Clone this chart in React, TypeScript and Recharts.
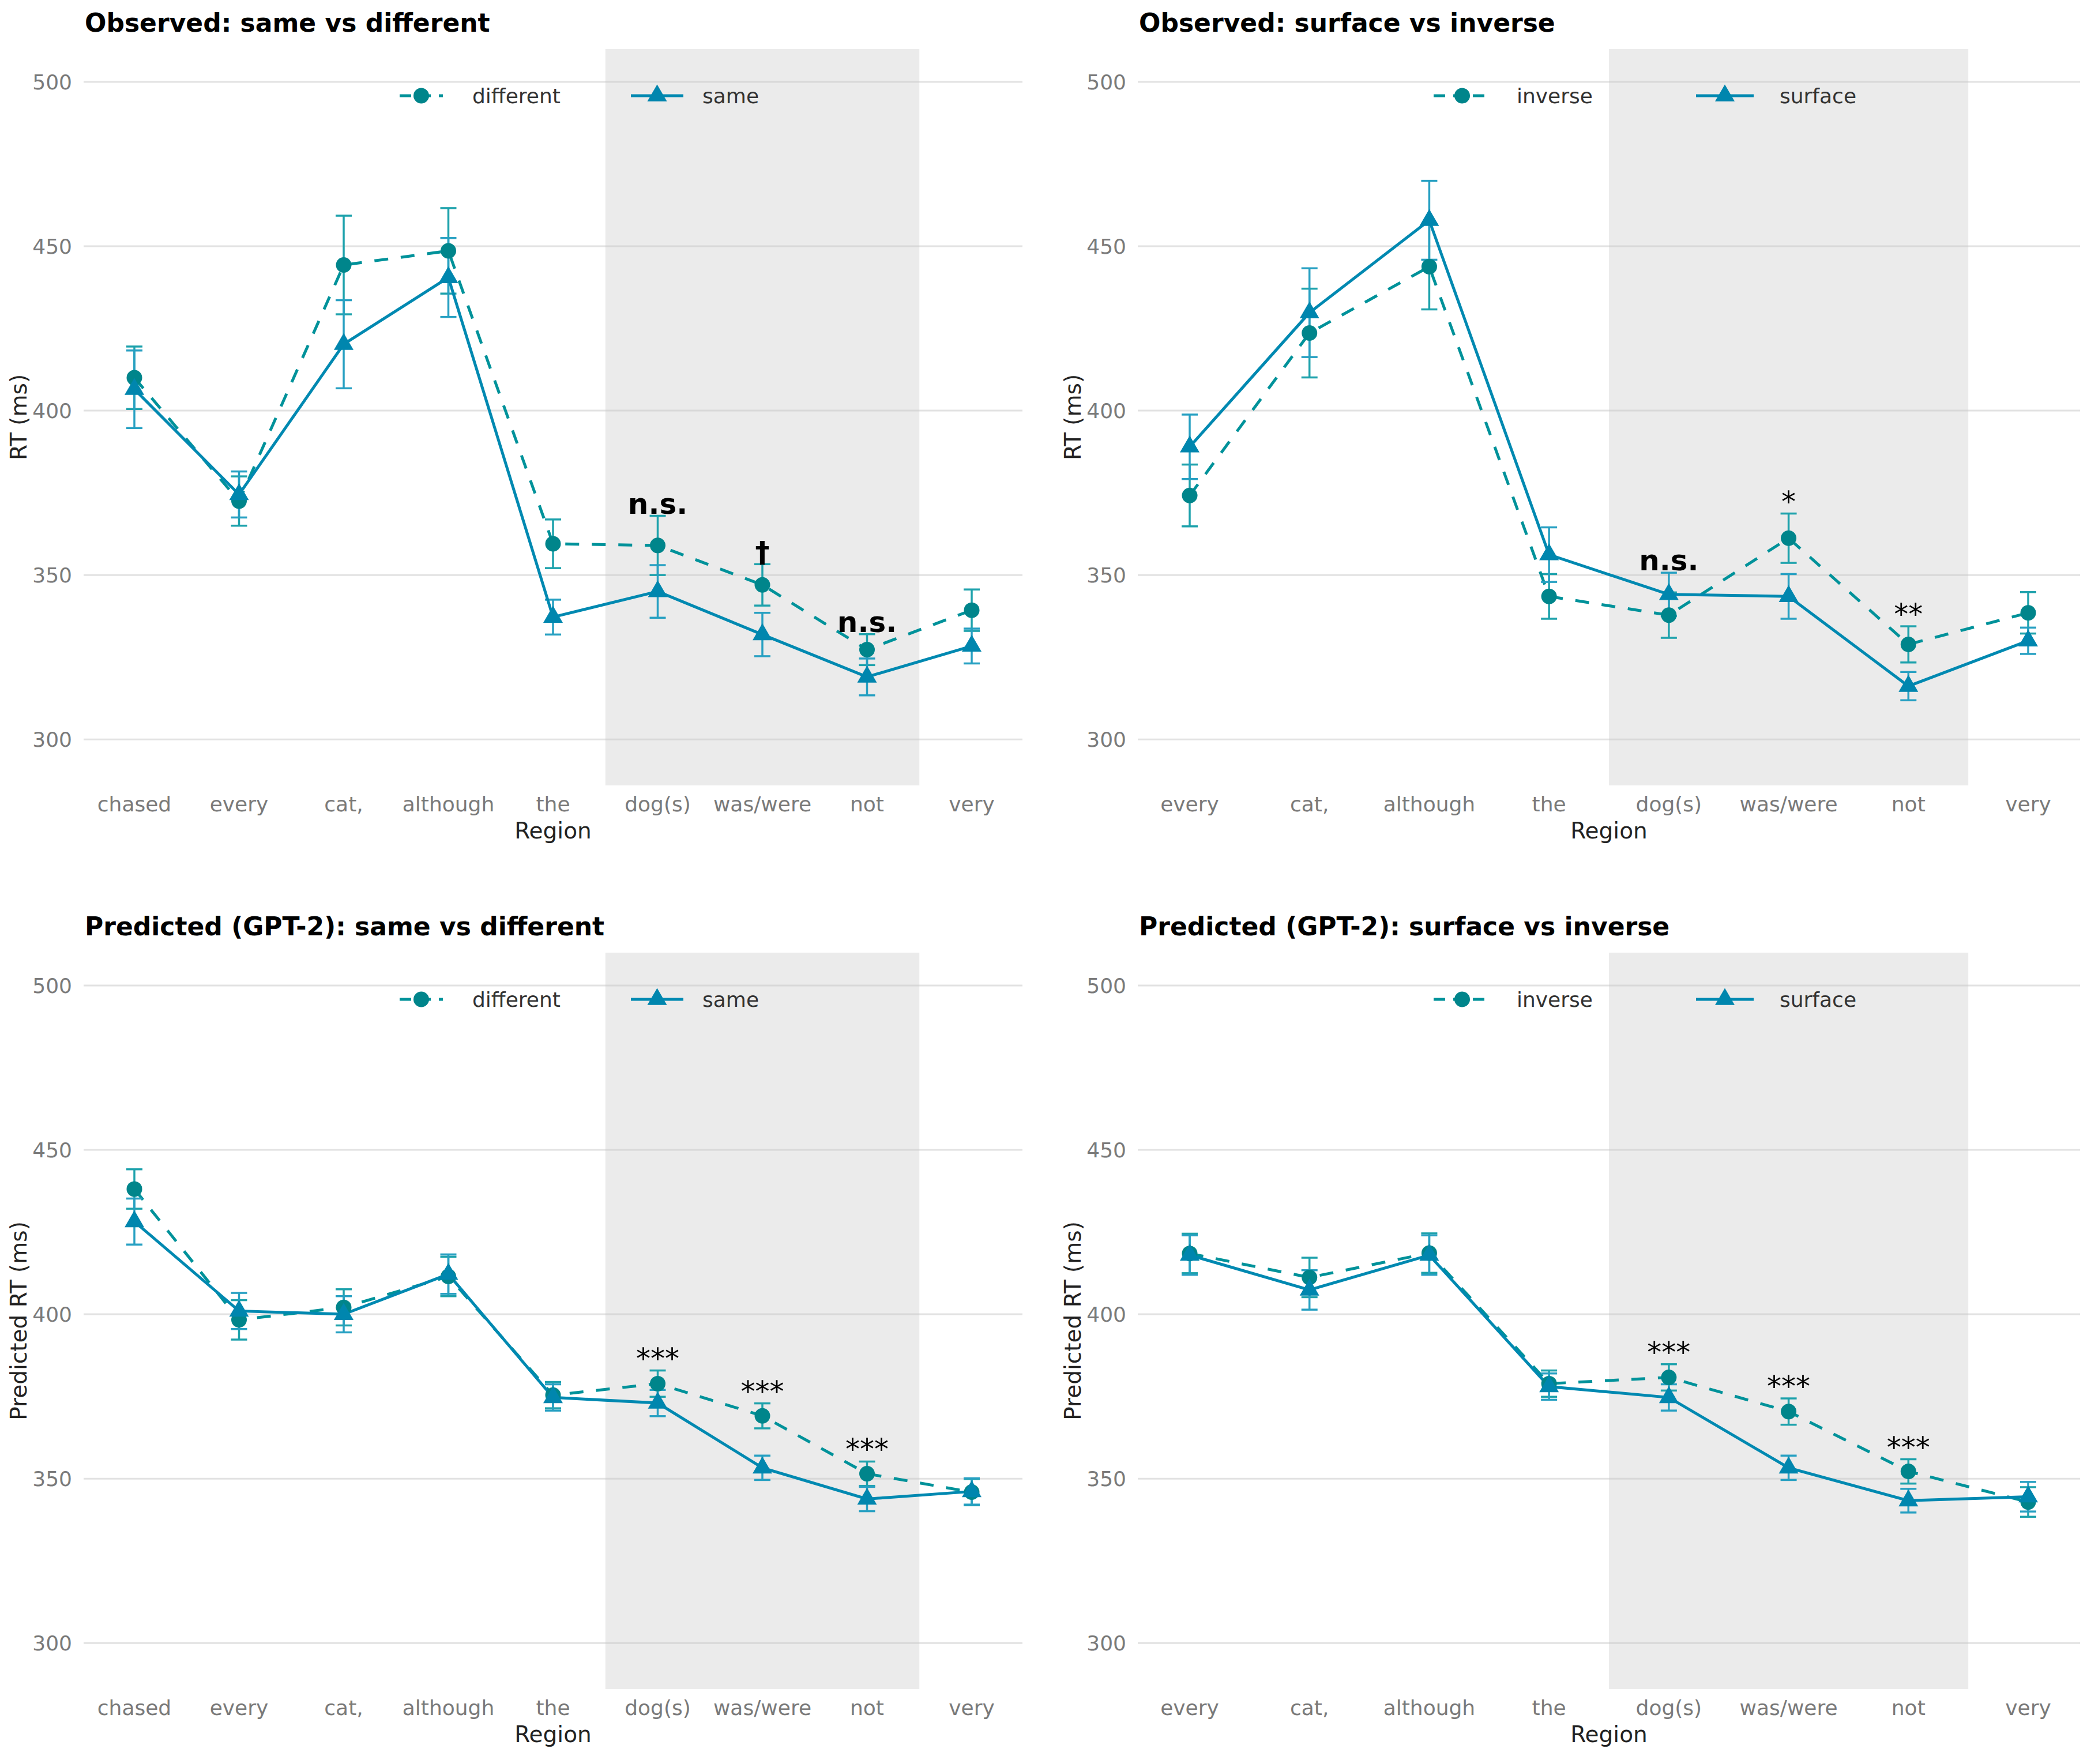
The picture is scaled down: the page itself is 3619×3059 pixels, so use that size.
import React from 'react';
import {
  ComposedChart,
  Line,
  Scatter,
  XAxis,
  YAxis,
  CartesianGrid,
  ReferenceArea,
  ErrorBar,
} from 'recharts';

// ---- data ----
const regionsSameDiff = ['chased', 'every', 'cat,', 'although', 'the', 'dog(s)', 'was/were', 'not', 'very'];
const regionsSurfInv = ['every', 'cat,', 'although', 'the', 'dog(s)', 'was/were', 'not', 'very'];
const criticalRegions = ['dog(s)', 'was/were', 'not'];
const yTicks = [300, 350, 400, 450, 500];

// Observed: same vs different
const obsDifferent = [410, 372.5, 444.3, 448.6, 359.5, 359, 347, 327.3, 339.3];
const obsDifferentSE = [9.5, 7.5, 15, 13, 7.4, 9, 6.3, 4.7, 6.3];
const obsSame = [406.5, 374.5, 420.2, 440.5, 337.2, 345, 331.9, 319, 328.4];
const obsSameSE = [11.8, 7, 13.4, 12, 5.3, 8, 6.6, 5.6, 5.3];
const obsSameDiffSig = [
  { region: 'dog(s)', label: 'n.s.' },
  { region: 'was/were', label: '†' },
  { region: 'not', label: 'n.s.' },
];

// Observed: surface vs inverse
const obsInverse = [374.2, 423.6, 443.8, 343.5, 337.8, 361.2, 328.9, 338.5];
const obsInverseSE = [9.4, 13.5, 13, 6.8, 6.9, 7.5, 5.5, 6.3];
const obsSurface = [389, 429.8, 457.9, 356.2, 344.1, 343.5, 316.2, 330];
const obsSurfaceSE = [9.8, 13.5, 12, 8.3, 6.6, 6.8, 4.3, 4];
const obsSurfInvSig = [
  { region: 'dog(s)', label: 'n.s.' },
  { region: 'was/were', label: '*' },
  { region: 'not', label: '**' },
];

// Predicted (GPT-2): same vs different
const predDifferent = [438.1, 398.3, 402.1, 411.5, 375.4, 378.9, 369.1, 351.5, 345.9];
const predDifferentSE = [6, 6, 5.5, 6, 4, 4, 3.8, 3.7, 4];
const predSame = [428.2, 401, 400, 412.2, 374.7, 373, 353.3, 343.8, 346.1];
const predSameSE = [7, 5.5, 5.5, 6, 4, 4, 3.7, 3.7, 4];
const predSameDiffSig = [
  { region: 'dog(s)', label: '***' },
  { region: 'was/were', label: '***' },
  { region: 'not', label: '***' },
];

// Predicted (GPT-2): surface vs inverse
const predInverse = [418.5, 411.2, 418.6, 378.9, 380.8, 370.4, 352.2, 342.9];
const predInverseSE = [6, 6, 6, 4, 4, 4, 3.7, 4.5];
const predSurface = [418, 407.4, 418, 378, 374.7, 353.3, 343.3, 344.5];
const predSurfaceSE = [6, 6, 6, 4, 4, 3.7, 3.6, 4.5];
const predSurfInvSig = [
  { region: 'dog(s)', label: '***' },
  { region: 'was/were', label: '***' },
  { region: 'not', label: '***' },
];

// ---- styling ----
const FONT = '"DejaVu Sans", Verdana, sans-serif';
const A_LINE = '#00929A';
const A_POINT = '#00858B';
const A_ERR = '#1EA2AC';
const B_LINE = '#0089B1';
const B_POINT = '#0086AE';
const B_ERR = '#27A0C2';

const CHART_H = 1472;
const PLOT_TOP = 85;
const X_AXIS_H = 110;
const Y_AXIS_W = 145;
const PLOT_BOTTOM = CHART_H - X_AXIS_H;

const circleDot = (fill: string) => (p: any) => (
  <circle key={`c-${p.index}`} cx={p.cx} cy={p.cy} r={13.5} fill={fill} />
);

const triangleDot = (fill: string) => (p: any) => (
  <polygon
    key={`t-${p.index}`}
    points={`${p.cx},${p.cy - 19.5} ${p.cx - 17},${p.cy + 9.8} ${p.cx + 17},${p.cy + 9.8}`}
    fill={fill}
  />
);

interface PanelProps {
  left: number;
  top: number;
  width: number;
  marginRight: number;
  padX: number;
  title: string;
  yLabel: string;
  regions: string[];
  aName: string;
  aValues: number[];
  aSE: number[];
  bName: string;
  bValues: number[];
  bSE: number[];
  sig: { region: string; label: string }[];
  legendA: [number, number, number];
  legendB: [number, number, number];
}

function Panel(props: PanelProps) {
  const { left, top, width, marginRight, padX, title, yLabel, regions, aName, aValues, aSE, bName, bValues, bSE, sig, legendA, legendB } = props;

  const data = regions.map((r, i) => ({
    idx: i,
    region: r,
    a: aValues[i],
    aErr: aSE[i],
    b: bValues[i],
    bErr: bSE[i],
  }));

  // significance marks sit on top of the higher error bar
  const sigData = sig.map((s) => {
    const i = regions.indexOf(s.region);
    return {
      idx: i,
      sigY: Math.max(aValues[i] + aSE[i], bValues[i] + bSE[i]),
      label: s.label,
    };
  });

  const critLo = regions.indexOf(criticalRegions[0]) - 0.5;
  const critHi = regions.indexOf(criticalRegions[criticalRegions.length - 1]) + 0.5;
  const plotLeft = Y_AXIS_W;
  const plotRight = width - marginRight;
  const legendY = PLOT_TOP + 81;

  const XTick = (p: any) => (
    <text x={p.x} y={p.y + 32} textAnchor="middle" dominantBaseline="central" fontSize={36} fill="#7a7a7a" fontFamily={FONT}>
      {regions[p.payload.value]}
    </text>
  );
  const YTick = (p: any) => (
    <text x={p.x - 20} y={p.y} textAnchor="end" dominantBaseline="central" fontSize={36} fill="#7a7a7a" fontFamily={FONT}>
      {p.payload.value}
    </text>
  );
  const SigLabel = (p: any) => (
    <text
      x={p.cx}
      y={p.cy - 4}
      textAnchor="middle"
      fontSize={50}
      fontWeight={p.payload.label.includes('*') ? 400 : 700}
      fill="#000"
      fontFamily={FONT}
    >
      {p.payload.label}
    </text>
  );

  return (
    <div style={{ position: 'absolute', left, top, width, height: CHART_H }}>
      <ComposedChart width={width} height={CHART_H} data={data} margin={{ top: PLOT_TOP, right: marginRight, bottom: 0, left: 0 }}>
        <CartesianGrid vertical={false} horizontalValues={yTicks} stroke="#E2E2E2" strokeWidth={3} />
        <ReferenceArea x1={critLo} x2={critHi} fill="#C4C4C4" fillOpacity={0.34} stroke="none" ifOverflow="visible" />
        <XAxis
          dataKey="idx"
          type="number"
          domain={[0, regions.length - 1]}
          ticks={regions.map((_, i) => i)}
          padding={{ left: padX, right: padX }}
          axisLine={false}
          tickLine={false}
          tickSize={0}
          tickMargin={0}
          height={X_AXIS_H}
          tick={XTick}
          interval={0}
        />
        <YAxis
          type="number"
          domain={[286, 510]}
          ticks={yTicks}
          allowDataOverflow
          axisLine={false}
          tickLine={false}
          tickSize={0}
          tickMargin={0}
          width={Y_AXIS_W}
          tick={YTick}
        />
        <Line
          dataKey="a"
          name={aName}
          type="linear"
          stroke={A_LINE}
          strokeWidth={5}
          strokeDasharray="24 22"
          dot={circleDot(A_POINT)}
          activeDot={false}
          isAnimationActive={false}
        >
          <ErrorBar dataKey="aErr" direction="y" width={14} strokeWidth={3.5} stroke={A_ERR} />
        </Line>
        <Line
          dataKey="b"
          name={bName}
          type="linear"
          stroke={B_LINE}
          strokeWidth={5}
          dot={triangleDot(B_POINT)}
          activeDot={false}
          isAnimationActive={false}
        >
          <ErrorBar dataKey="bErr" direction="y" width={14} strokeWidth={3.5} stroke={B_ERR} />
        </Line>
        <Scatter data={sigData} dataKey="sigY" shape={SigLabel} isAnimationActive={false} />
      </ComposedChart>

      {/* title, axis titles and legend */}
      <svg width={width} height={CHART_H} style={{ position: 'absolute', left: 0, top: 0, pointerEvents: 'none' }} fontFamily={FONT}>
        <text x={plotLeft + 2} y={39} dominantBaseline="central" fontSize={44} fontWeight={700} fill="#000">
          {title}
        </text>
        <text
          x={32}
          y={(PLOT_TOP + PLOT_BOTTOM) / 2}
          transform={`rotate(-90 32 ${(PLOT_TOP + PLOT_BOTTOM) / 2})`}
          textAnchor="middle"
          dominantBaseline="central"
          fontSize={39}
          fill="#222"
        >
          {yLabel}
        </text>
        <text x={(plotLeft + plotRight) / 2} y={PLOT_BOTTOM + 78} textAnchor="middle" dominantBaseline="central" fontSize={39} fill="#222">
          Region
        </text>

        <line x1={legendA[0]} x2={legendA[1]} y1={legendY} y2={legendY} stroke={A_LINE} strokeWidth={5} strokeDasharray="20 14" />
        <circle cx={(legendA[0] + legendA[1]) / 2} cy={legendY} r={13.5} fill={A_POINT} />
        <text x={legendA[2]} y={legendY} dominantBaseline="central" fontSize={36} fill="#333">
          {aName}
        </text>

        <line x1={legendB[0]} x2={legendB[1]} y1={legendY} y2={legendY} stroke={B_LINE} strokeWidth={5} />
        {triangleDot(B_POINT)({ cx: (legendB[0] + legendB[1]) / 2, cy: legendY, index: 'leg' })}
        <text x={legendB[2]} y={legendY} dominantBaseline="central" fontSize={36} fill="#333">
          {bName}
        </text>
      </svg>
    </div>
  );
}

export default function App() {
  return (
    <div style={{ position: 'relative', width: 3619, height: 3059, background: '#fff', overflow: 'hidden' }}>
      <style>{'body{margin:0;}'}</style>
      <Panel
        left={0}
        top={0}
        width={1810}
        marginRight={37}
        padX={88}
        title="Observed: same vs different"
        yLabel="RT (ms)"
        regions={regionsSameDiff}
        aName="different"
        aValues={obsDifferent}
        aSE={obsDifferentSE}
        bName="same"
        bValues={obsSame}
        bSE={obsSameSE}
        sig={obsSameDiffSig}
        legendA={[693, 768, 819]}
        legendB={[1094, 1185, 1218]}
      />
      <Panel
        left={1828}
        top={0}
        width={1791}
        marginRight={12}
        padX={90}
        title="Observed: surface vs inverse"
        yLabel="RT (ms)"
        regions={regionsSurfInv}
        aName="inverse"
        aValues={obsInverse}
        aSE={obsInverseSE}
        bName="surface"
        bValues={obsSurface}
        bSE={obsSurfaceSE}
        sig={obsSurfInvSig}
        legendA={[658, 757, 802]}
        legendB={[1113, 1213, 1258]}
      />
      <Panel
        left={0}
        top={1567}
        width={1810}
        marginRight={37}
        padX={88}
        title="Predicted (GPT-2): same vs different"
        yLabel="Predicted RT (ms)"
        regions={regionsSameDiff}
        aName="different"
        aValues={predDifferent}
        aSE={predDifferentSE}
        bName="same"
        bValues={predSame}
        bSE={predSameSE}
        sig={predSameDiffSig}
        legendA={[693, 768, 819]}
        legendB={[1094, 1185, 1218]}
      />
      <Panel
        left={1828}
        top={1567}
        width={1791}
        marginRight={12}
        padX={90}
        title="Predicted (GPT-2): surface vs inverse"
        yLabel="Predicted RT (ms)"
        regions={regionsSurfInv}
        aName="inverse"
        aValues={predInverse}
        aSE={predInverseSE}
        bName="surface"
        bValues={predSurface}
        bSE={predSurfaceSE}
        sig={predSurfInvSig}
        legendA={[658, 757, 802]}
        legendB={[1113, 1213, 1258]}
      />
    </div>
  );
}
